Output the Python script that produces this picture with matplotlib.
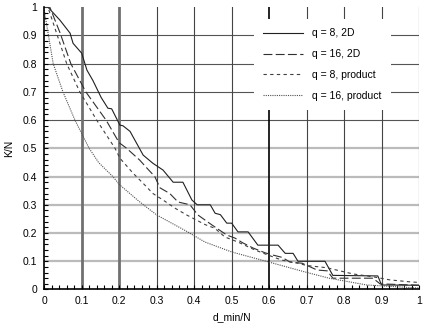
import matplotlib.pyplot as plt
import numpy as np

# q = 8, 2D (solid)
x_q8_2d = [0.0, 0.01, 0.042, 0.069, 0.077, 0.1, 0.114, 0.13, 0.152, 0.17, 0.18, 0.202, 0.21, 0.229,
           0.264, 0.29, 0.317, 0.344, 0.37, 0.394, 0.408, 0.443, 0.456, 0.47, 0.487, 0.5, 0.517, 0.544,
           0.57, 0.624, 0.643, 0.664, 0.677, 0.749, 0.77, 0.89, 0.9, 1.0]
y_q8_2d = [1.0, 1.0, 0.954, 0.908, 0.872, 0.837, 0.777, 0.74, 0.68, 0.642, 0.64, 0.582, 0.58, 0.56,
           0.476, 0.447, 0.423, 0.38, 0.38, 0.317, 0.3, 0.3, 0.27, 0.265, 0.235, 0.235, 0.204, 0.204,
           0.157, 0.157, 0.128, 0.128, 0.1, 0.1, 0.05, 0.048, 0.016, 0.015]

# q = 16, 2D (long dash)
x_q16_2d = [0.0, 0.015, 0.042, 0.071, 0.111, 0.165, 0.2, 0.22, 0.255, 0.274, 0.295, 0.309, 0.335,
            0.357, 0.389, 0.41, 0.429, 0.447, 0.487, 0.509, 0.53, 0.557, 0.589, 0.61, 0.634, 0.656,
            0.688, 0.728, 0.755, 0.77, 0.877, 0.896, 1.0]
y_q16_2d = [1.0, 1.0, 0.91, 0.8, 0.7, 0.6, 0.52, 0.5, 0.458, 0.43, 0.4, 0.36, 0.34,
            0.31, 0.3, 0.264, 0.246, 0.229, 0.193, 0.182, 0.165, 0.147, 0.13, 0.122, 0.114, 0.097,
            0.093, 0.069, 0.066, 0.04, 0.04, 0.02, 0.015]

# q = 8, product (short dash)
x_q8_prod = [0.0, 0.01, 0.06, 0.095, 0.14, 0.189, 0.202, 0.237, 0.264, 0.29, 0.317, 0.349, 0.38,
             0.429, 0.455, 0.482, 0.517, 0.562, 0.597, 0.634, 0.677, 0.7, 0.754, 0.824, 0.877,
             0.922, 0.976, 1.0]
y_q8_prod = [1.0, 1.0, 0.8, 0.7, 0.6, 0.5, 0.465, 0.412, 0.376, 0.34, 0.317, 0.288, 0.264,
             0.23, 0.217, 0.186, 0.168, 0.14, 0.122, 0.104, 0.093, 0.085, 0.077, 0.055, 0.045,
             0.034, 0.027, 0.025]

# q = 16, product (dotted)
x_q16_prod = [0.0, 0.024, 0.05, 0.082, 0.12, 0.145, 0.183, 0.202, 0.255, 0.3, 0.38, 0.429, 0.5,
              0.6, 0.696, 0.76, 0.86, 1.0]
y_q16_prod = [0.99, 0.8, 0.7, 0.6, 0.5, 0.45, 0.4, 0.37, 0.31, 0.264, 0.206, 0.168, 0.133,
              0.097, 0.062, 0.04, 0.016, 0.005]

labels = ["q = 8, 2D", "q = 16, 2D", "q = 8, product", "q = 16, product"]

plt.rcParams["font.family"] = "Liberation Sans"
plt.rcParams["font.size"] = 7.5

fig = plt.figure(figsize=(4.25, 3.26), dpi=100)
ax = fig.add_axes([0.104, 0.112, 0.882, 0.866])

# Grid, drawn by hand to get the mixed weights of the original.
for yv in np.arange(0.1, 0.55, 0.1):
    ax.axhline(yv, color="#bbbbbb", linewidth=1.6, zorder=0)
for yv in np.arange(0.6, 0.95, 0.1):
    ax.axhline(yv, color="#555555", linewidth=0.8, zorder=0)
for xv in np.arange(0.1, 1.05, 0.1):
    xv = round(xv, 1)
    if xv in (0.1, 0.2):
        ax.axvline(xv, color="#707070", linewidth=2.0, zorder=0)
    elif xv == 0.6:
        ax.axvline(xv, color="#000000", linewidth=1.2, zorder=0)
    else:
        ax.axvline(xv, color="#444444", linewidth=0.8, zorder=0)

ax.plot(x_q8_2d, y_q8_2d, color="#202020", linewidth=0.8, label=labels[0])
ax.plot(x_q16_2d, y_q16_2d, color="#303030", linewidth=0.8, dashes=(8, 3), label=labels[1])
ax.plot(x_q8_prod, y_q8_prod, color="#404040", linewidth=0.8, dashes=(3, 3), label=labels[2])
ax.plot(x_q16_prod, y_q16_prod, color="#505050", linewidth=0.8, dashes=(1, 1), label=labels[3])

ax.set_xlim(0, 1)
ax.set_ylim(0, 1)
ticks = np.round(np.arange(0, 1.05, 0.1), 1)
ticklabels = ["0"] + [f"{t:.1f}" for t in ticks[1:-1]] + ["1"]
ax.set_xticks(ticks)
ax.set_xticklabels(ticklabels)
ax.set_yticks(ticks)
ax.set_yticklabels(ticklabels)
ax.set_xticks(np.arange(0, 1.001, 0.02), minor=True)
ax.set_yticks(np.arange(0, 1.001, 0.02), minor=True)
ax.tick_params(which="both", direction="in", length=3, width=0.8, color="black", pad=5)
ax.tick_params(axis="x", which="both", top=False)
ax.tick_params(axis="y", which="both", right=False)
for side in ("top", "right"):
    ax.spines[side].set_visible(False)
for side in ("left", "bottom"):
    ax.spines[side].set_linewidth(1.2)

ax.set_xlabel("d_min/N", labelpad=4)
ax.set_ylabel("K/N", labelpad=6)

leg = ax.legend(loc="upper left", bbox_to_anchor=(0.545, 0.977), frameon=True, framealpha=1.0,
                edgecolor="white", facecolor="white", fancybox=False, handlelength=3.8,
                labelspacing=1.05, borderpad=0.9, handletextpad=0.9)
leg.get_frame().set_linewidth(0)

plt.savefig("out.png", dpi=100)
plt.close()
